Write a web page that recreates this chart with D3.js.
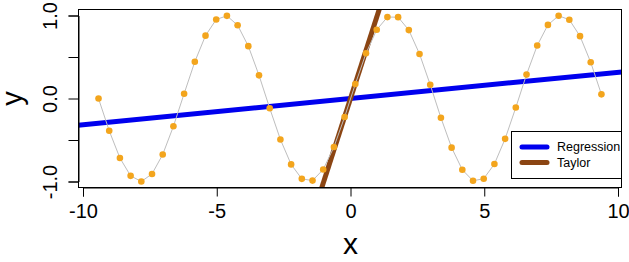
<!DOCTYPE html>
<html>
<head>
<meta charset="utf-8">
<script src="https://cdn.jsdelivr.net/npm/d3@7"></script>
<style>
  body { margin: 0; background: #fff; }
  svg { font-family: Arial, "Liberation Sans", Helvetica, sans-serif; }
</style>
</head>
<body>
<div id="chart"></div>
<script>
var xs = [-9.42, -9.02, -8.62, -8.22, -7.82, -7.42, -7.02, -6.62, -6.22, -5.82,
          -5.42, -5.02, -4.62, -4.22, -3.82, -3.42, -3.02, -2.62, -2.22, -1.82,
          -1.42, -1.02, -0.62, -0.22, 0.18, 0.58, 0.98, 1.38, 1.78, 2.18,
          2.58, 2.98, 3.38, 3.78, 4.18, 4.58, 4.98, 5.38, 5.78, 6.18,
          6.58, 6.98, 7.38, 7.78, 8.18, 8.58, 8.98, 9.38];
var ys = [0.000, -0.389, -0.717, -0.932, -1.000, -0.909, -0.675, -0.335, 0.058, 0.443,
          0.757, 0.952, 0.996, 0.883, 0.631, 0.279, -0.117, -0.494, -0.794, -0.968,
          -0.989, -0.855, -0.585, -0.223, 0.174, 0.544, 0.828, 0.981, 0.980, 0.824,
          0.537, 0.166, -0.232, -0.592, -0.859, -0.991, -0.966, -0.789, -0.486, -0.108,
          0.288, 0.638, 0.887, 0.997, 0.949, 0.751, 0.436, 0.050];

// straight lines: [intercept, slope]
var lineNames = ["Regression", "Taylor"];
var lineCoefs = [[0.0, 0.0316], [0.0, 1.0]];
var lineColors = ["#0000EE", "#8B4513"];

var xTicks = [-10, -5, 0, 5, 10];
var yTicks = [-1, -0.5, 0, 0.5, 1];
var yTickLabels = {"-1": "-1.0", "0": "0.0", "1": "1.0"};

var W = 629, H = 262;
var box = {left: 78, right: 622, top: 9, bottom: 188};

var svg = d3.select("#chart").append("svg")
    .attr("width", W).attr("height", H);

var x = d3.scaleLinear().domain([-10, 10]).range([83, 618]);
var y = d3.scaleLinear().domain([-1, 1]).range([181.5, 15.5]);

svg.append("clipPath").attr("id", "plotclip")
  .append("rect")
    .attr("x", box.left).attr("y", box.top)
    .attr("width", box.right - box.left).attr("height", box.bottom - box.top);

var plot = svg.append("g").attr("clip-path", "url(#plotclip)");

// ablines across the whole plot region
var xMin = x.invert(box.left), xMax = x.invert(box.right);
lineCoefs.forEach(function(c, i) {
  plot.append("line")
    .attr("x1", x(xMin)).attr("y1", y(c[0] + c[1] * xMin))
    .attr("x2", x(xMax)).attr("y2", y(c[0] + c[1] * xMax))
    .attr("stroke", lineColors[i])
    .attr("stroke-width", 5);
});

var pts = xs.map(function(d, i) { return [d, ys[i]]; });

plot.append("path")
    .datum(pts)
    .attr("fill", "none")
    .attr("stroke", "#BEBEBE")
    .attr("stroke-width", 1)
    .attr("d", d3.line()
      .x(function(d) { return x(d[0]); })
      .y(function(d) { return y(d[1]); }));

plot.selectAll("circle.pt")
    .data(pts)
  .enter().append("circle")
    .attr("class", "pt")
    .attr("cx", function(d) { return x(d[0]); })
    .attr("cy", function(d) { return y(d[1]); })
    .attr("r", 3.3)
    .attr("fill", "#F3A51D");

// box
svg.append("rect")
    .attr("x", box.left + 0.5).attr("y", box.top + 0.5)
    .attr("width", box.right - box.left - 1).attr("height", box.bottom - box.top - 1)
    .attr("fill", "none").attr("stroke", "#000").attr("stroke-width", 1);

// x axis (plain hyphen minus like R)
var xAxis = svg.append("g")
    .attr("transform", "translate(0," + (box.bottom - 0.5) + ")")
    .call(d3.axisBottom(x).tickValues(xTicks).tickSizeOuter(0).tickSize(9).tickPadding(7)
      .tickFormat(function(d) { return String(d); }));
xAxis.selectAll("text").attr("font-size", 20).attr("fill", "#000")
    .attr("font-family", "Arial, 'Liberation Sans', sans-serif");
xAxis.selectAll("line, path").attr("stroke", "#000");

// y axis
var yAxis = svg.append("g")
    .attr("transform", "translate(" + (box.left + 0.5) + ",0)")
    .call(d3.axisLeft(y).tickValues(yTicks).tickSizeOuter(0).tickSize(10)
      .tickFormat(function(d) { return yTickLabels[String(d)] || ""; }));
yAxis.selectAll("line, path").attr("stroke", "#000");
yAxis.selectAll("text")
    .attr("font-size", 20).attr("fill", "#000")
    .attr("font-family", "Arial, 'Liberation Sans', sans-serif")
    .attr("x", null).attr("dy", null)
    .attr("text-anchor", "middle")
    .attr("transform", "translate(-22,0) rotate(-90)");

// axis titles
svg.append("text")
    .attr("x", x(0)).attr("y", 254)
    .attr("text-anchor", "middle")
    .attr("font-size", 30)
    .text("x");
svg.append("text")
    .attr("transform", "translate(22," + y(0) + ") rotate(-90)")
    .attr("text-anchor", "middle")
    .attr("font-size", 29)
    .text("y");

// legend
var lg = svg.append("g");
lg.append("rect")
    .attr("x", 511.5).attr("y", 131.5)
    .attr("width", 110).attr("height", 47)
    .attr("fill", "#fff").attr("stroke", "#000");
lineNames.forEach(function(name, i) {
  var ly = 147 + i * 15.5;
  lg.append("line")
    .attr("x1", 522).attr("x2", 547)
    .attr("y1", ly).attr("y2", ly)
    .attr("stroke", lineColors[i])
    .attr("stroke-width", 5)
    .attr("stroke-linecap", "round");
  lg.append("text")
    .attr("x", 557).attr("y", ly)
    .attr("dy", "0.35em")
    .attr("font-size", 12.5)
    .text(name);
});
</script>
</body>
</html>
